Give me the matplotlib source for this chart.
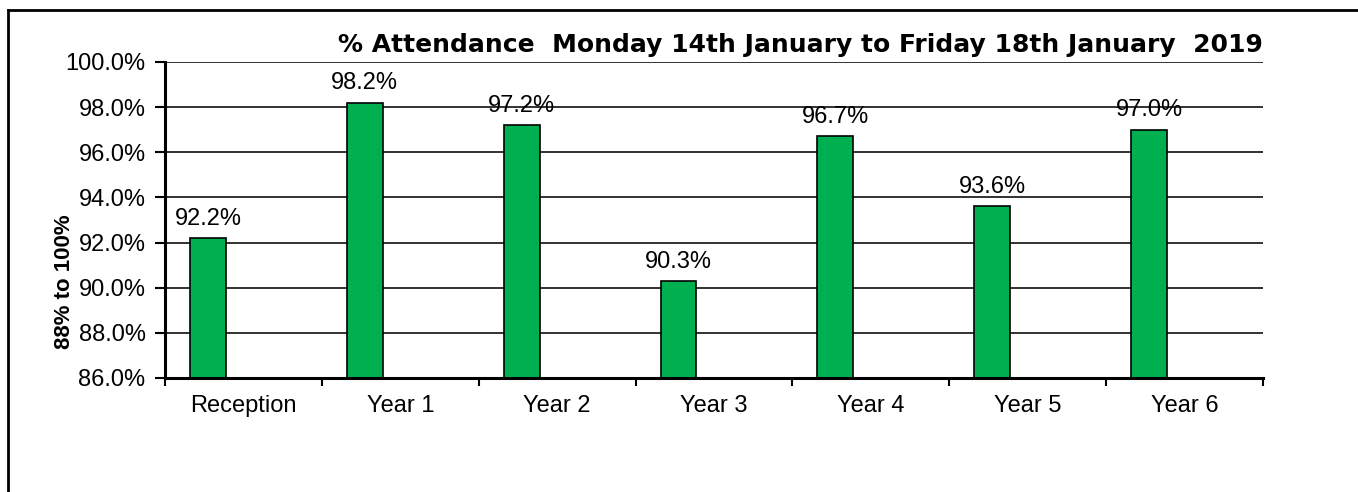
import matplotlib.pyplot as plt
from matplotlib.ticker import FuncFormatter
import numpy as np

plt.rcParams['font.family'] = ['Liberation Sans', 'DejaVu Sans']

# attendance per class
classes = ['Reception', 'Year 1', 'Year 2', 'Year 3', 'Year 4', 'Year 5', 'Year 6']
attendance = [92.2, 98.2, 97.2, 90.3, 96.7, 93.6, 97.0]

fig = plt.figure(figsize=(13.58, 4.92), dpi=100)
ax = fig.add_axes([165 / 1358, 1 - 378 / 492, (1263 - 165) / 1358, (378 - 62) / 492])

x = np.arange(len(classes))
barWidth = 0.229
barOffset = 0.159
bars = ax.bar(x + barOffset, attendance, barWidth, align='edge', bottom=0,
              color='#00B050', edgecolor='black', linewidth=1.2, zorder=3)

for i, val in enumerate(attendance):
    ax.annotate('%.1f%%' % val, (x[i] + barOffset + barWidth / 2, val),
                xytext=(0, 6), textcoords='offset points',
                ha='center', va='bottom', fontsize=17, zorder=4)

ax.set_ylim(86, 100)
ax.set_xlim(0, len(classes))
ax.set_yticks(np.arange(86, 100.1, 2))
ax.yaxis.set_major_formatter(FuncFormatter(lambda v, p: '%.1f%%' % v))
ax.grid(axis='y', color='#222222', linewidth=1.3, zorder=0)

ax.set_xticks(np.arange(0, len(classes) + 1))
ax.set_xticklabels([])
ax.set_xticks(x + 0.5, minor=True)
ax.set_xticklabels(classes, minor=True)
ax.tick_params(axis='x', which='minor', length=0, pad=12, labelsize=17)
ax.tick_params(axis='x', which='major', length=6, width=1.5, direction='out')
ax.tick_params(axis='y', length=7, width=1.5, pad=7, labelsize=17)

for side in ['top', 'right']:
    ax.spines[side].set_visible(False)
for side in ['left', 'bottom']:
    ax.spines[side].set_linewidth(2.2)
    ax.spines[side].set_zorder(5)

fig.text(1263 / 1358, 1 - 52 / 492,
         '% Attendance  Monday 14th January to Friday 18th January  2019',
         ha='right', va='baseline', fontsize=18, fontweight='bold',
         family=['DejaVu Sans'])
fig.text(65 / 1358, 1 - 282 / 492, '88% to 100%', rotation=90,
         ha='center', va='center', fontsize=16, fontweight='bold')

# outer frame (left and top edges visible)
fig.add_artist(plt.Line2D([8 / 1358, 8 / 1358], [0, 1 - 10 / 492], color='black', linewidth=2))
fig.add_artist(plt.Line2D([8 / 1358, 1], [1 - 10 / 492, 1 - 10 / 492], color='black', linewidth=2))

fig.savefig('out.png', dpi=100)
